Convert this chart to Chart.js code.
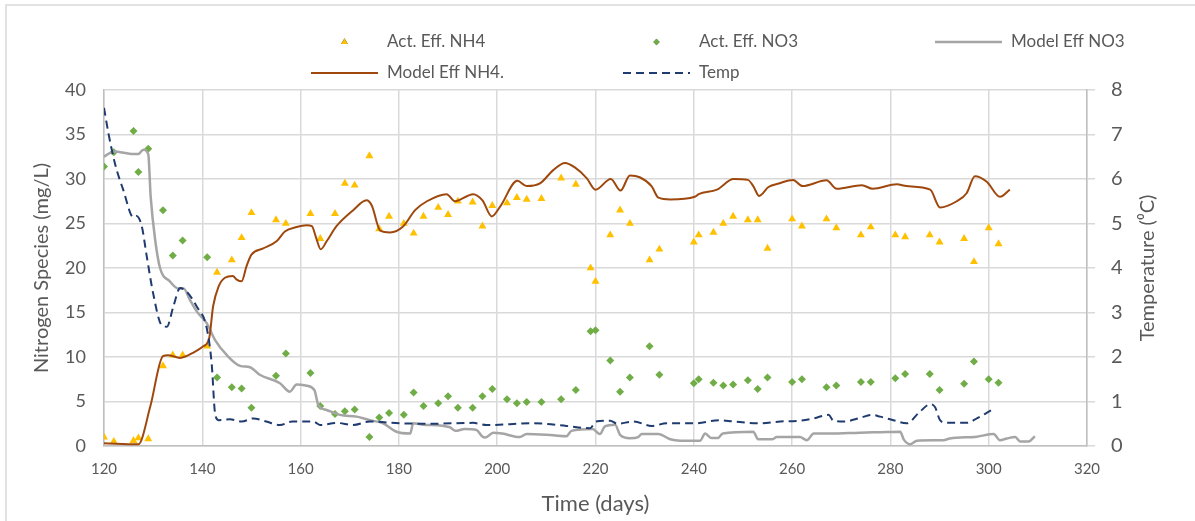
<!DOCTYPE html>
<html>
<head>
<meta charset="utf-8">
<script src="https://cdn.jsdelivr.net/npm/chart.js@4.4.1/dist/chart.umd.min.js"></script>
<style>
  html, body { margin: 0; padding: 0; background: #fff; }
  #wrap { position: relative; width: 1195px; height: 521px; }
</style>
</head>
<body>
<div id="wrap"><canvas id="chartNitrogen" width="1195" height="521"></canvas></div>
<script>
// sampling days for measured effluent
const sampleDays = [120, 122, 126, 127, 129, 132, 134, 136, 141, 143, 146, 148, 150, 155, 157, 162, 164, 167, 169, 171,
    174, 176, 178, 181, 183, 185, 188, 190, 192, 195, 197, 199, 202, 204, 206, 209, 213, 216, 219, 220,
    223, 225, 227, 231, 233, 240, 241, 244, 246, 248, 251, 253, 255, 260, 262, 267, 269, 274, 276, 281,
    283, 288, 290, 295, 297, 300, 302];
const actNh4 = [1.0, 0.5, 0.6, 0.9, 0.8, 9.0, 10.2, 10.2, 11.2, 19.5, 20.9, 23.4, 26.2, 25.4, 25.0, 26.1, 23.3, 26.1, 29.5, 29.3,
    32.6, 24.4, 25.8, 25.0, 23.9, 25.8, 26.8, 26.0, 27.5, 27.4, 24.7, 27.0, 27.3, 27.9, 27.7, 27.8, 30.1, 29.4, 20.0, 18.5,
    23.7, 26.5, 25.0, 20.9, 22.1, 22.9, 23.7, 24.0, 25.0, 25.8, 25.4, 25.4, 22.2, 25.5, 24.7, 25.5, 24.5, 23.7, 24.6, 23.7,
    23.5, 23.7, 22.9, 23.3, 20.7, 24.5, 22.7];
const actNo3 = [31.4, 33.0, 35.4, 30.8, 33.4, 26.5, 21.4, 23.1, 21.2, 7.7, 6.6, 6.45, 4.3, 7.9, 10.4, 8.2, 4.5, 3.6, 3.9, 4.1,
    1.0, 3.2, 3.7, 3.5, 6.0, 4.5, 4.8, 5.6, 4.3, 4.3, 5.6, 6.4, 5.25, 4.8, 4.95, 4.95, 5.25, 6.3, 12.9, 13.0,
    9.6, 6.1, 7.7, 11.2, 8.0, 7.05, 7.5, 7.1, 6.8, 6.9, 7.4, 6.4, 7.7, 7.2, 7.5, 6.6, 6.8, 7.2, 7.2, 7.6,
    8.1, 8.1, 6.3, 7.0, 9.5, 7.5, 7.1];

// model NO3
const modelNo3Days = [120, 122, 126, 127, 128, 129, 129.5, 130.4, 131.4, 133.4, 135.1, 136.2, 137.5, 138.9, 140.9, 142.6, 145, 147.7, 149.7, 151.7,
    155.8, 157.8, 159.2, 161, 162.8, 163.6, 165.3, 168, 171.4, 174.1, 176.8, 179.5, 182.3, 182.9, 185, 190.4, 191.5, 193.4, 195.8, 196.9,
    197.6, 199.2, 201, 204.6, 206, 211.4, 214.1, 215.1, 219.4, 220.9, 221.9, 224, 225, 227, 228.7, 229.4, 232.8, 235.2, 237.3, 241.3,
    242.3, 243.6, 244.9, 245.9, 252.1, 253.1, 255.9, 256.9, 261.6, 263, 264.4, 267.8, 273.8, 277.9, 282, 282.7, 284, 285.4, 290.8, 292.1,
    297.6, 301, 302.3, 303.7, 305.4, 306.4, 308.1, 309.4];
const modelNo3 = [32.5, 33.1, 32.8, 32.8, 33.3, 32.8, 28.0, 23.2, 20.0, 18.5, 17.7, 17.7, 16.4, 15.1, 13.8, 11.9, 10.2, 9.0, 8.85, 8.0,
    7.05, 6.1, 6.9, 6.8, 6.3, 4.6, 4.05, 3.5, 3.3, 2.9, 2.55, 1.6, 1.4, 2.55, 2.4, 2.1, 1.7, 1.9, 1.8, 1.1,
    0.95, 1.5, 1.4, 1.0, 1.35, 1.2, 1.1, 1.7, 1.9, 1.35, 2.2, 2.4, 1.25, 0.87, 1.0, 1.35, 1.35, 0.75, 0.6, 0.6,
    1.4, 0.9, 0.9, 1.4, 1.6, 0.75, 0.75, 1.0, 1.0, 0.65, 1.4, 1.4, 1.5, 1.55, 1.6, 0.75, 0.2, 0.6, 0.65, 0.85,
    1.05, 1.35, 0.65, 0.85, 1.0, 0.5, 0.5, 1.1];

// model NH4
const modelNh4Days = [120, 127, 129.4, 132, 133, 135.5, 138.2, 140.2, 141.4, 142.2, 143.3, 144.6, 146.2, 147, 148, 149, 150, 152.4, 155.1, 156.8,
    159.2, 161.2, 162.3, 163.1, 164.1, 165.3, 167.3, 170.7, 173.4, 174.5, 176.2, 178.2, 180.9, 183.3, 185.7, 189.7, 191.4, 195.1, 197, 198.9,
    200.6, 204.1, 206, 208.7, 211.4, 213.8, 215.8, 218.2, 220, 223.1, 225.1, 227, 229, 231.4, 232.8, 235.2, 240.2, 241, 244.7, 248.1,
    251, 252.1, 253.3, 255.2, 257.3, 260.2, 262.1, 267, 269.1, 274.2, 276.4, 281.3, 283.3, 288.1, 290.1, 293.5, 295.5, 297.2, 299.6, 302.3,
    304.3];
const modelNh4 = [0.3, 0.2, 4.4, 10.1, 10.2, 9.9, 10.5, 11.2, 12.1, 15.7, 17.9, 18.9, 19.1, 18.7, 18.5, 20.2, 21.5, 22.2, 23.0, 24.1,
    24.6, 24.8, 24.7, 23.5, 22.1, 23.0, 24.7, 26.5, 27.6, 27.0, 24.2, 24.0, 24.7, 26.5, 27.5, 28.3, 27.5, 28.3, 27.6, 25.8,
    26.9, 29.8, 29.2, 29.5, 31.0, 31.8, 31.3, 30.1, 28.8, 30.0, 28.7, 30.4, 30.2, 29.2, 27.9, 27.7, 28.0, 28.3, 28.8, 30.0,
    29.9, 29.2, 28.1, 29.1, 29.5, 29.9, 29.2, 29.85, 28.9, 29.3, 28.9, 29.4, 29.2, 28.8, 26.8, 27.5, 28.4, 30.3, 29.7, 28.0,
    28.8];

// temperature (right axis)
const tempDays = [120, 120.9, 122.2, 123.9, 126, 126.6, 127.7, 128.7, 130, 131.7, 132.8, 134.1, 135.5, 136.8, 138.9, 140.9, 141.9, 142.6, 143.3, 145.6,
    148, 150.4, 153, 155.8, 158.3, 162.6, 164, 167.3, 170.7, 174.1, 180.2, 187, 195.1, 197.8, 207.4, 214.1, 218.9, 220.1, 223, 224.4,
    227.8, 231.4, 234.5, 240.2, 245.3, 248.1, 253.5, 257.6, 261.6, 264.4, 267.4, 268.4, 270.5, 273.8, 276.2, 277.9, 280.6, 283.3, 286, 288.1,
    289.1, 290.1, 291.5, 295.5, 297.6, 300.6];
const temp = [7.6, 7.03, 6.36, 5.76, 5.14, 5.17, 4.93, 4.26, 3.43, 2.72, 2.68, 3.13, 3.55, 3.47, 3.13, 2.65, 1.86, 0.73, 0.58, 0.6,
    0.55, 0.62, 0.55, 0.47, 0.55, 0.55, 0.47, 0.52, 0.47, 0.55, 0.51, 0.5, 0.52, 0.47, 0.51, 0.45, 0.4, 0.55, 0.57, 0.5,
    0.55, 0.45, 0.51, 0.51, 0.58, 0.55, 0.51, 0.55, 0.57, 0.62, 0.7, 0.57, 0.55, 0.63, 0.7, 0.66, 0.58, 0.51, 0.77, 0.94,
    0.87, 0.58, 0.52, 0.52, 0.62, 0.81];

const xTicks = [120, 140, 160, 180, 200, 220, 240, 260, 280, 300, 320];

const pts = (xs, ys) => xs.map((x, i) => ({ x: x, y: ys[i] }));

const textColor = '#595959';
const gridColor = '#d9d9d9';
const fontFamily = 'Lato, "Open Sans", sans-serif';

// legend laid out on a 3-column grid like the original
const legendSlots = [
    { col: 0, row: 0 }, { col: 1, row: 0 }, { col: 2, row: 0 },
    { col: 0, row: 1 }, { col: 1, row: 1 }
];

const gridLegend = {
    id: 'gridLegend',
    beforeDraw(chart) {
        const c = chart.ctx;
        c.save();
        c.fillStyle = '#fff';
        c.fillRect(0, 0, chart.width, chart.height);
        c.strokeStyle = gridColor;
        c.lineWidth = 1.5;
        c.strokeRect(6, 5, chart.width + 20, chart.height + 20);
        c.restore();
    },
    afterDraw(chart) {
        const c = chart.ctx;
        c.save();
        c.font = '17px ' + fontFamily;
        c.textBaseline = 'middle';
        chart.data.datasets.forEach((ds, i) => {
            const slot = legendSlots[i];
            const x0 = 311 + slot.col * 312;
            const y = 42 + slot.row * 31;
            const w = 67;
            if (ds.showLine === false) {
                Chart.helpers.drawPoint(c, {
                    pointStyle: ds.pointStyle,
                    radius: ds.pointRadius - 0.8,
                    rotation: 0,
                    borderWidth: 0
                }, x0 + w / 2, y);
                c.fillStyle = ds.backgroundColor;
                c.fill();
            } else {
                c.beginPath();
                c.strokeStyle = ds.borderColor;
                c.lineWidth = ds.borderWidth;
                c.setLineDash(ds.borderDash || []);
                c.moveTo(x0, y);
                c.lineTo(x0 + w, y);
                c.stroke();
                c.setLineDash([]);
            }
            c.fillStyle = textColor;
            c.fillText(ds.label, x0 + w + 9, y);
        });

        // right axis title reads bottom-to-top in the original
        const y1 = chart.scales.y1;
        c.translate(1148, (y1.top + y1.bottom) / 2);
        c.rotate(-Math.PI / 2);
        c.font = '20px ' + fontFamily;
        c.textAlign = 'center';
        c.fillStyle = textColor;
        c.fillText('Temperature (\u2070C)', 0, 0);
        c.restore();
    }
};

const ctx = document.getElementById('chartNitrogen').getContext('2d');
const chartNitrogen = new Chart(ctx, {
    type: 'line',
    data: {
        datasets: [
            {
                label: 'Act. Eff. NH4',
                data: pts(sampleDays, actNh4),
                showLine: false,
                pointStyle: 'triangle',
                pointRadius: 4.6,
                backgroundColor: '#ffc000',
                borderColor: '#ffc000',
                borderWidth: 0,
                yAxisID: 'y',
                order: 4
            },
            {
                label: 'Act. Eff. NO3',
                data: pts(sampleDays, actNo3),
                showLine: false,
                pointStyle: 'rectRot',
                pointRadius: 4,
                backgroundColor: '#70ad47',
                borderColor: '#70ad47',
                borderWidth: 0,
                yAxisID: 'y',
                order: 3
            },
            {
                label: 'Model Eff NO3',
                data: pts(modelNo3Days, modelNo3),
                borderColor: '#a5a5a5',
                backgroundColor: '#a5a5a5',
                borderWidth: 2.5,
                pointRadius: 0,
                cubicInterpolationMode: 'monotone',
                yAxisID: 'y',
                order: 2
            },
            {
                label: 'Model Eff NH4.',
                data: pts(modelNh4Days, modelNh4),
                borderColor: '#9e480e',
                backgroundColor: '#9e480e',
                borderWidth: 2,
                pointRadius: 0,
                cubicInterpolationMode: 'monotone',
                yAxisID: 'y',
                order: 1
            },
            {
                label: 'Temp',
                data: pts(tempDays, temp),
                borderColor: '#1f3b70',
                backgroundColor: '#1f3b70',
                borderWidth: 2,
                borderDash: [8, 5],
                pointRadius: 0,
                cubicInterpolationMode: 'monotone',
                yAxisID: 'y1',
                order: 0
            }
        ]
    },
    options: {
        responsive: false,
        animation: false,
        layout: {
            padding: { top: 90, left: 0, right: 0, bottom: 0 }
        },
        plugins: {
            legend: { display: false },
            tooltip: { enabled: false }
        },
        scales: {
            x: {
                type: 'linear',
                min: 120,
                max: 320,
                afterBuildTicks: (s) => { s.ticks = xTicks.map(v => ({ value: v })); },
                afterFit: (s) => { s.height = 75; },
                grid: { color: gridColor, lineWidth: 1.5, drawTicks: false },
                border: { color: '#bfbfbf', width: 1.5 },
                ticks: { color: textColor, font: { family: fontFamily, size: 15 }, padding: 14 },
                title: {
                    display: true,
                    text: 'Time (days)',
                    color: textColor,
                    font: { family: fontFamily, size: 22 },
                    padding: { top: 0, bottom: 4 }
                }
            },
            y: {
                position: 'left',
                min: 0,
                max: 40,
                ticks: { stepSize: 5, color: textColor, font: { family: fontFamily, size: 18 }, padding: 18 },
                afterFit: (s) => { s.width = 104; },
                grid: { color: gridColor, lineWidth: 1.5, drawTicks: false },
                border: { color: '#bfbfbf', width: 1.5 },
                title: {
                    display: true,
                    text: 'Nitrogen Species (mg/L)',
                    color: textColor,
                    font: { family: fontFamily, size: 20 },
                    padding: { top: 30, bottom: 0 }
                }
            },
            y1: {
                position: 'right',
                min: 0,
                max: 8,
                ticks: { stepSize: 1, color: textColor, font: { family: fontFamily, size: 20 }, padding: 16 },
                afterFit: (s) => { s.width = 108; },
                grid: { color: gridColor, lineWidth: 1.5, drawOnChartArea: false, drawTicks: true, tickLength: 8 },
                border: { color: '#bfbfbf', width: 1.5 },
                title: { display: false }
            }
        }
    },
    plugins: [gridLegend]
});
</script>
</body>
</html>
